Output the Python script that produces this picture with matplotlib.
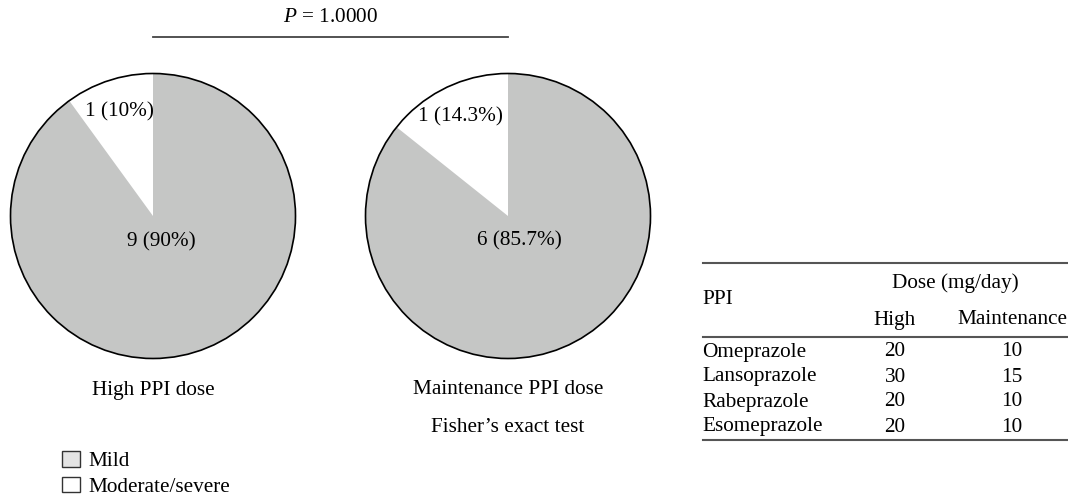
import numpy as np
import matplotlib
matplotlib.use('Agg')
import matplotlib.pyplot as plt
from matplotlib.patches import Circle, Patch

plt.rcParams['font.family'] = ['Liberation Serif', 'DejaVu Serif']
plt.rcParams['mathtext.fontset'] = 'custom'
plt.rcParams['mathtext.rm'] = 'Liberation Serif'
plt.rcParams['mathtext.it'] = 'Liberation Serif:italic'

# -- DATA --
groups = ['High PPI dose', 'Maintenance PPI dose']
mild = [9, 6]
moderate_severe = [1, 1]
severity_labels = ['Mild', 'Moderate/severe']
p_value = 1.0
test_name = 'Fisher\u2019s exact test'

ppi_names = ['Omeprazole', 'Lansoprazole', 'Rabeprazole', 'Esomeprazole']
high_dose = [20, 30, 20, 20]
maint_dose = [10, 15, 10, 10]

# -- LAYOUT (pixels, top-left origin) --
W, H = 1068, 499
GRAY = '#c5c6c5'
LEGEND_GRAY = '#e4e4e4'
FS = 15.3
R = 142.5
pie_x = [153, 508]
pie_y = 216


def py(y):
    # pixel row -> data y
    return H - y


def fmt(n, total):
    pct = f'{100 * n / total:.1f}'.rstrip('0').rstrip('.')
    return f'{n} ({pct}%)'


fig = plt.figure(figsize=(W / 100, H / 100), dpi=100)
ax = fig.add_axes([0, 0, 1, 1])

for cx, n_mild, n_mod, name in zip(pie_x, mild, moderate_severe, groups):
    total = n_mild + n_mod
    vals = [n_mod, n_mild]
    wedges, _ = ax.pie(vals, colors=['white', GRAY], startangle=90,
                       counterclock=True, center=(cx, py(pie_y)), radius=R,
                       wedgeprops=dict(linewidth=0))
    ax.add_patch(Circle((cx, py(pie_y)), R, fill=False,
                        edgecolor='black', lw=1.2))
    for w, n, dist in zip(wedges, vals, [0.77, 0.19]):
        ang = np.deg2rad((w.theta1 + w.theta2) / 2)
        ax.text(cx + dist * R * np.cos(ang), py(pie_y) + dist * R * np.sin(ang),
                fmt(n, total), ha='center', va='center', fontsize=FS)
    ax.text(cx, py(390), name, ha='center', va='center', fontsize=FS)

ax.text(pie_x[1], py(428), test_name, ha='center', va='center', fontsize=FS)

# p-value bracket
ax.plot(pie_x, [py(37), py(37)], color='#444444', lw=1.3)
ax.text(sum(pie_x) / 2, py(17), f'$P$ = {p_value:.4f}',
        ha='center', va='center', fontsize=FS)

# legend
handles = [Patch(facecolor=LEGEND_GRAY, edgecolor='#333333', lw=1.0),
           Patch(facecolor='white', edgecolor='#333333', lw=1.0)]
fig.legend(handles, severity_labels, loc='upper left',
           bbox_to_anchor=(62 / W, 1 - 451 / H), frameon=False, fontsize=FS,
           handlelength=0.85, handleheight=0.75, handletextpad=0.4,
           labelspacing=0.25, borderpad=0, borderaxespad=0)

# dose table
tx0, tx1 = 703, W
col_high, col_maint = 895, 1012
for yl in [263, 337, 440]:
    ax.plot([tx0, tx1], [py(yl), py(yl)], color='#555555', lw=1.5)
ax.text(702, py(300), 'PPI', ha='left', va='center', fontsize=FS)
ax.text((col_high + col_maint) / 2 + 2, py(283), 'Dose (mg/day)',
        ha='center', va='center', fontsize=FS)
ax.text(col_high, py(320), 'High', ha='center', va='center', fontsize=FS)
ax.text(col_maint, py(320), 'Maintenance', ha='center', va='center',
        fontsize=FS)
for i, (name, hi, mt) in enumerate(zip(ppi_names, high_dose, maint_dose)):
    yr = py(352 + 25 * i)
    ax.text(702, yr, name, ha='left', va='center', fontsize=FS)
    ax.text(col_high, yr, str(hi), ha='center', va='center', fontsize=FS)
    ax.text(col_maint, yr, str(mt), ha='center', va='center', fontsize=FS)

ax.set_xlim(0, W)
ax.set_ylim(0, H)
ax.set_aspect('auto')
ax.axis('off')

fig.savefig('out.png', dpi=100)
